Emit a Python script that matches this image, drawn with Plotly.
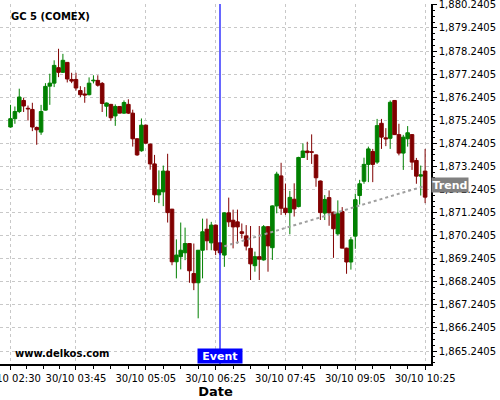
import plotly.graph_objects as go
import pandas as pd

# 5-minute bars, 30/10 02:30 .. 10:25
times = pd.date_range("2020-10-30 02:30", periods=96, freq="5min")

opens = [1874.95, 1875.31, 1875.62, 1876.10, 1875.76, 1875.71, 1874.93, 1874.73, 1875.68, 1876.72,
         1876.85, 1877.52, 1877.32, 1877.75, 1877.01, 1877.01, 1876.53, 1876.38, 1876.35, 1876.95,
         1876.97, 1876.84, 1875.85, 1875.93, 1875.43, 1875.84, 1875.55, 1875.93, 1875.55, 1874.44,
         1873.92, 1875.03, 1874.21, 1873.35, 1872.01, 1872.14, 1873.04, 1871.39, 1869.11, 1869.33,
         1869.50, 1869.90, 1868.60, 1868.20, 1869.61, 1870.52, 1869.93, 1870.70, 1869.93, 1869.40,
         1871.23, 1870.91, 1870.84, 1870.41, 1870.23, 1869.69, 1868.94, 1869.33, 1869.19, 1870.63,
         1869.72, 1871.53, 1872.83, 1871.43, 1871.24, 1871.82, 1871.50, 1873.63, 1873.91, 1873.88,
         1873.74, 1872.61, 1871.22, 1871.89, 1871.26, 1870.32, 1871.29, 1869.70, 1869.10, 1870.22,
         1871.98, 1872.60, 1873.33, 1873.89, 1873.43, 1875.11, 1874.48, 1874.46, 1876.10, 1874.62,
         1873.82, 1874.44, 1874.62, 1873.50, 1872.82, 1873.04]
highs = [1875.91, 1875.84, 1876.61, 1876.22, 1875.88, 1876.00, 1874.97, 1875.91, 1876.85, 1877.26,
         1877.84, 1878.34, 1878.12, 1877.75, 1877.30, 1877.30, 1876.72, 1876.68, 1877.10, 1877.19,
         1877.19, 1876.90, 1876.01, 1875.95, 1875.93, 1875.86, 1876.10, 1876.15, 1875.70, 1874.46,
         1875.32, 1875.05, 1874.23, 1873.74, 1873.07, 1873.28, 1873.79, 1871.40, 1870.08, 1870.81,
         1870.59, 1869.92, 1869.90, 1869.62, 1870.98, 1870.98, 1870.84, 1870.72, 1869.95, 1871.25,
         1871.89, 1871.37, 1871.37, 1870.77, 1870.70, 1870.66, 1869.55, 1870.66, 1870.70, 1870.65,
         1871.55, 1873.01, 1873.40, 1872.50, 1872.18, 1872.51, 1873.66, 1874.24, 1874.31, 1874.63,
         1873.76, 1872.63, 1872.00, 1872.20, 1871.28, 1871.77, 1871.48, 1869.72, 1870.18, 1872.06,
         1872.66, 1873.62, 1874.10, 1874.00, 1875.30, 1875.30, 1874.90, 1876.10, 1876.12, 1875.09,
         1874.61, 1874.99, 1874.64, 1873.61, 1873.28, 1874.00]
lows = [1874.92, 1875.09, 1875.55, 1875.60, 1875.23, 1874.77, 1874.18, 1874.61, 1875.67, 1875.91,
        1876.68, 1877.11, 1877.29, 1876.88, 1876.85, 1876.53, 1876.25, 1876.00, 1876.32, 1876.84,
        1876.70, 1875.60, 1875.40, 1875.22, 1875.00, 1875.55, 1875.52, 1875.52, 1874.10, 1873.70,
        1873.88, 1874.22, 1873.10, 1871.70, 1871.65, 1871.52, 1870.81, 1868.96, 1868.39, 1868.78,
        1869.18, 1868.20, 1867.88, 1866.66, 1868.39, 1869.61, 1869.61, 1869.40, 1869.40, 1868.89,
        1870.62, 1869.69, 1869.90, 1870.12, 1869.60, 1868.32, 1868.68, 1868.32, 1869.16, 1868.68,
        1869.19, 1871.21, 1871.14, 1871.14, 1870.30, 1871.07, 1871.47, 1873.63, 1873.52, 1873.35,
        1872.36, 1870.92, 1870.92, 1870.67, 1869.28, 1870.25, 1869.70, 1868.59, 1868.77, 1869.67,
        1871.59, 1872.49, 1872.56, 1872.56, 1873.35, 1874.00, 1874.12, 1874.00, 1874.62, 1873.72,
        1873.09, 1874.10, 1873.09, 1872.49, 1871.98, 1871.65]
closes = [1875.31, 1875.62, 1876.25, 1875.86, 1875.73, 1874.95, 1874.83, 1875.62, 1876.71, 1876.85,
          1877.62, 1877.32, 1877.84, 1877.03, 1876.94, 1876.64, 1876.35, 1876.33, 1876.85, 1876.98,
          1876.76, 1875.97, 1875.99, 1875.35, 1875.84, 1875.55, 1876.01, 1875.55, 1874.44, 1873.74,
          1875.03, 1874.25, 1873.35, 1872.01, 1872.23, 1873.04, 1871.24, 1869.11, 1869.40, 1869.61,
          1869.90, 1868.72, 1868.20, 1869.61, 1870.41, 1870.02, 1870.70, 1869.61, 1869.50, 1871.23,
          1870.84, 1870.62, 1870.62, 1870.34, 1869.79, 1869.02, 1869.33, 1869.22, 1870.63, 1869.80,
          1871.53, 1872.91, 1871.43, 1871.24, 1871.90, 1871.40, 1873.63, 1873.91, 1873.84, 1873.85,
          1872.75, 1871.24, 1871.81, 1871.23, 1870.54, 1871.19, 1869.70, 1869.10, 1870.06, 1871.80,
          1872.49, 1873.33, 1874.00, 1873.33, 1875.01, 1874.51, 1874.43, 1876.02, 1874.62, 1873.82,
          1874.51, 1874.70, 1873.43, 1872.82, 1872.88, 1871.91]

trend_x = ["2020-10-30 06:35", "2020-10-30 10:25"]
trend_y = [1869.78, 1872.40]
event_time = "2020-10-30 06:30"

major_ticks = ["2020-10-30 02:30", "2020-10-30 03:45", "2020-10-30 05:05", "2020-10-30 06:25",
               "2020-10-30 07:45", "2020-10-30 09:05", "2020-10-30 10:25"]
major_labels = ["30/10 02:30", "30/10 03:45", "30/10 05:05", "30/10 06:25",
                "30/10 07:45", "30/10 09:05", "30/10 10:25"]
minor_ticks = list(pd.date_range("2020-10-30 02:30", "2020-10-30 03:45", periods=5)) + \
    list(pd.date_range("2020-10-30 03:45", "2020-10-30 10:25", freq="20min"))

y_ticks = [1865.2405, 1866.2405, 1867.2405, 1868.2405, 1869.2405, 1870.2405, 1871.2405, 1872.2405,
           1873.2405, 1874.2405, 1875.2405, 1876.2405, 1877.2405, 1878.2405, 1879.2405, 1880.2405]
y_labels = [f"{v:,.4f}" for v in y_ticks]

font = "DejaVu Sans"
UP, DOWN = "#008000", "#800000"
bar_ms = 5 * 60 * 1000 * 0.82

fig = go.Figure()
for is_up, color in ((True, UP), (False, DOWN)):
    idx = [i for i in range(len(times)) if (closes[i] > opens[i]) == is_up]
    wx, wy = [], []
    for i in idx:
        wx += [times[i], times[i], None]
        wy += [lows[i], highs[i], None]
    fig.add_trace(go.Scatter(x=wx, y=wy, mode="lines", line=dict(color=color, width=1),
                             showlegend=False, hoverinfo="skip"))
    fig.add_trace(go.Bar(
        x=[times[i] for i in idx],
        base=[min(opens[i], closes[i]) for i in idx],
        y=[abs(closes[i] - opens[i]) for i in idx],
        width=bar_ms, marker=dict(color=color, line=dict(color=color, width=1)),
        showlegend=False, hoverinfo="skip",
    ))

fig.add_trace(go.Scatter(
    x=trend_x, y=trend_y, mode="lines",
    line=dict(color="#a0a0a0", width=2, dash="dot"),
    showlegend=False, hoverinfo="skip",
))

fig.add_shape(type="line", xref="x", yref="paper", x0=event_time, x1=event_time,
              y0=0, y1=1, line=dict(color="#0000ff", width=1.2))
fig.add_annotation(x=event_time, xref="x", y=0, yref="paper", yanchor="bottom",
                   text="<b> Event </b>", showarrow=False, bgcolor="#0000ff",
                   font=dict(family=font, size=11, color="white"),
                   borderpad=0.5)
fig.add_annotation(x=1, xref="paper", xanchor="left", y=trend_y[1] + 0.05, yref="y",
                   text="<b>Trend</b>", showarrow=False, bgcolor="#808080",
                   font=dict(family=font, size=11, color="white"), borderpad=0.5)
fig.add_annotation(x=0.02, xref="paper", xanchor="left", y=0.965, yref="paper",
                   yanchor="middle", text="<b>GC 5 (COMEX)</b>", showarrow=False,
                   font=dict(family=font, size=10, color="black"))
fig.add_annotation(x=0.03, xref="paper", xanchor="left", y=0.03, yref="paper",
                   yanchor="middle", text="<b>www.delkos.com</b>", showarrow=False,
                   font=dict(family=font, size=10, color="black"))

fig.update_layout(
    width=500, height=400,
    margin=dict(l=0, r=69, t=4, b=36, autoexpand=False),
    paper_bgcolor="white", plot_bgcolor="white",
    font=dict(family=font, size=10, color="black"),
    barmode="overlay",
    xaxis=dict(
        type="date", automargin=False,
        range=["2020-10-30 02:17:56", "2020-10-30 10:31:45"],
        tickvals=major_ticks, ticktext=major_labels,
        ticks="outside", ticklen=4, tickcolor="black",
        ticklabeloverflow="allow",
        showline=True, linecolor="black", linewidth=1.5,
        showgrid=True, gridcolor="#c8c8c8", griddash="3px,3px", gridwidth=1,
        zeroline=False,
        tickfont=dict(family=font, size=10),
        minor=dict(tickmode="array", tickvals=minor_ticks, ticks="outside",
                   ticklen=3, tickcolor="black", showgrid=False),
        title=dict(text="<b>Date</b>", font=dict(family=font, size=13), standoff=2),
    ),
    yaxis=dict(
        side="right", automargin=False,
        range=[1864.68, 1880.28],
        tickmode="array", tickvals=y_ticks, ticktext=y_labels,
        ticks="outside", ticklen=4, tickcolor="black",
        ticklabeloverflow="allow",
        showline=True, linecolor="black", linewidth=1.5,
        showgrid=True, gridcolor="#c8c8c8", griddash="3px,3px", gridwidth=1,
        zeroline=False,
        tickfont=dict(family=font, size=10),
        minor=dict(dtick=0.25, tick0=1865.2405, ticks="outside", ticklen=2,
                   tickcolor="black", showgrid=False),
    ),
)

fig.write_html("out.html", config={"displayModeBar": False},
               post_script="document.body.style.margin='0';")
